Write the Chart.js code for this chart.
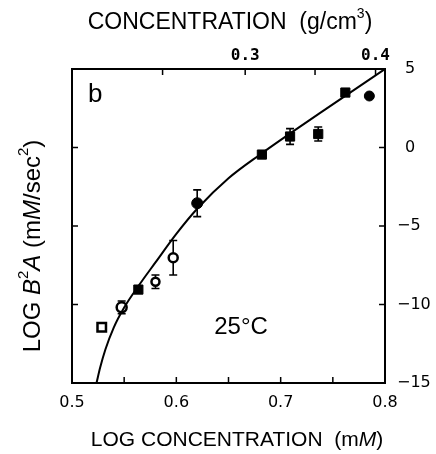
<!DOCTYPE html>
<html><head><meta charset="utf-8">
<script src="https://cdn.jsdelivr.net/npm/chart.js@4"></script>
<style>html,body{margin:0;padding:0;background:#fff}#wrap{width:436px;height:454px}</style>
</head><body><div id="wrap"><canvas id="c" width="436" height="454"></canvas></div>
<script>
// ---- data ----
const curveX = [0.5235, 0.527, 0.532, 0.540, 0.550, 0.5636, 0.580, 0.600, 0.620, 0.650, 0.680, 0.740, 0.800];
const curveY = [-15.0, -14.02, -12.87, -11.47, -10.19, -8.83, -7.32, -5.5, -3.9, -1.96, -0.46, 2.3, 5.0];
const openX = [0.5285, 0.5476, 0.580, 0.597];
const openY = [-11.45, -10.18, -8.55, -7.02];
const openErr = [0, 0.4, 0.43, 1.1];
const filledX = [0.5636, 0.620, 0.682, 0.709, 0.736, 0.762, 0.785];
const filledY = [-9.05, -3.55, -0.45, 0.7, 0.86, 3.5, 3.28];
const filledErr = [0, 0.85, 0, 0.5, 0.45, 0, 0];
const xTickValues = [0.5, 0.55, 0.6, 0.65, 0.7, 0.75, 0.8];
const xTickLabels = ['0.5', '', '0.6', '', '0.7', '', '0.8'];
const yTickValues = [-15, -10, -5, 0, 5];
const yTickLabels = ['\u221215', '\u221210', '\u22125', '\u20020', '\u20025'];
const topTickConc = [0.25, 0.3, 0.35, 0.4];
const topTickLabels = ['', '0.3', '', '0.4'];
const topRefConc = 0.3, topRefLog = 0.666;

const TITLE_FONT = '"Liberation Sans", Arial, sans-serif';
const TICK_FONT = '"DejaVu Sans", sans-serif';

function pts(xs, ys) { return xs.map((x, i) => ({x: x, y: ys[i]})); }

function segFont(s, size) {
  const sz = s.sup ? Math.round(size * 0.62) : size;
  return (s.i ? 'italic ' : '') + sz + 'px ' + TITLE_FONT;
}
function drawRich(ctx, segs, cx, cy, size, rot) {
  ctx.save();
  ctx.translate(cx, cy);
  if (rot) ctx.rotate(rot);
  let w = 0;
  segs.forEach(s => { ctx.font = segFont(s, size); w += ctx.measureText(s.t).width; });
  let x = -w / 2;
  ctx.fillStyle = '#000';
  ctx.textBaseline = 'middle';
  ctx.textAlign = 'left';
  segs.forEach(s => {
    ctx.font = segFont(s, size);
    ctx.fillText(s.t, x, s.sup ? -size * 0.38 : 0);
    x += ctx.measureText(s.t).width;
  });
  ctx.restore();
}

const decor = {
  id: 'decor',
  beforeDatasetsDraw(chart) {
    const ctx = chart.ctx, xs = chart.scales.x, ys = chart.scales.y;
    ctx.save();
    ctx.strokeStyle = '#000';
    ctx.lineWidth = 1.6;
    const bars = (X, Y, E) => X.forEach((x, i) => {
      if (!E[i]) return;
      const px = xs.getPixelForValue(x);
      const y1 = ys.getPixelForValue(Y[i] + E[i]);
      const y2 = ys.getPixelForValue(Y[i] - E[i]);
      ctx.beginPath();
      ctx.moveTo(px, y1); ctx.lineTo(px, y2);
      ctx.moveTo(px - 4, y1); ctx.lineTo(px + 4, y1);
      ctx.moveTo(px - 4, y2); ctx.lineTo(px + 4, y2);
      ctx.stroke();
    });
    bars(openX, openY, openErr);
    bars(filledX, filledY, filledErr);
    ctx.restore();
  },
  afterDraw(chart) {
    const ctx = chart.ctx, a = chart.chartArea;
    ctx.save();
    ctx.strokeStyle = '#000';
    ctx.lineWidth = 1.5;
    const L = 6;
    ctx.beginPath();
    chart.scales.x.ticks.forEach(t => { const p = chart.scales.x.getPixelForValue(t.value); ctx.moveTo(p, a.bottom); ctx.lineTo(p, a.bottom - L); });
    chart.scales.x2.ticks.forEach(t => { const p = chart.scales.x2.getPixelForValue(t.value); ctx.moveTo(p, a.top); ctx.lineTo(p, a.top + L); });
    chart.scales.y.ticks.forEach(t => { const p = chart.scales.y.getPixelForValue(t.value); ctx.moveTo(a.right, p); ctx.lineTo(a.right - L, p); });
    chart.scales.y2.ticks.forEach(t => { const p = chart.scales.y2.getPixelForValue(t.value); ctx.moveTo(a.left, p); ctx.lineTo(a.left + L, p); });
    ctx.stroke();
    ctx.restore();

    drawRich(ctx, [{t: 'CONCENTRATION  (g/cm'}, {t: '3', sup: true}, {t: ')'}], 230, 23, 23, 0);
    drawRich(ctx, [{t: 'LOG CONCENTRATION  (m'}, {t: 'M', i: true}, {t: ')'}], 237, 440, 21, 0);
    drawRich(ctx, [{t: 'LOG '}, {t: 'B', i: true}, {t: '2', sup: true}, {t: 'A', i: true}, {t: ' (m'}, {t: 'M', i: true}, {t: '/sec'}, {t: '2', sup: true}, {t: ')'}], 33, 246, 24, -Math.PI / 2);

    ctx.save();
    ctx.fillStyle = '#000';
    ctx.textBaseline = 'alphabetic';
    ctx.textAlign = 'left';
    ctx.font = '26px ' + TITLE_FONT;
    ctx.fillText('b', 88, 102);
    ctx.textAlign = 'center';
    ctx.textBaseline = 'middle';
    ctx.font = '24px ' + TITLE_FONT;
    ctx.fillText('25\u00B0C', 241, 327);
    ctx.restore();
  }
};

const tickFont = {family: TICK_FONT, size: 16};
const axisCommon = {
  type: 'linear',
  grid: {display: true, drawOnChartArea: false, drawTicks: false},
  border: {display: true, color: '#000', width: 2}
};

new Chart(document.getElementById('c'), {
  type: 'scatter',
  data: {
    datasets: [
      {
        data: pts(curveX, curveY), showLine: true, borderColor: '#000', borderWidth: 2,
        pointRadius: 0, cubicInterpolationMode: 'monotone', fill: false, xAxisID: 'x', yAxisID: 'y'
      },
      {
        data: pts(openX, openY), xAxisID: 'x', yAxisID: 'y',
        pointStyle: ['rect', 'circle', 'circle', 'circle'], pointRadius: [6, 5, 4, 4.5],
        backgroundColor: '#fff', borderColor: '#000', borderWidth: 2.5
      },
      {
        data: pts(filledX, filledY), xAxisID: 'x', yAxisID: 'y',
        pointStyle: ['rect', 'circle', 'rect', 'rect', 'rect', 'rect', 'circle'], pointRadius: [6.5, 5.5, 6.5, 6.5, 6.5, 6.5, 5],
        backgroundColor: '#000', borderColor: '#000', borderWidth: 1
      }
    ]
  },
  options: {
    responsive: false, animation: false, devicePixelRatio: 1,
    layout: {padding: 0},
    plugins: {legend: {display: false}, tooltip: {enabled: false}},
    events: [],
    scales: {
      x: Object.assign({}, axisCommon, {
        position: 'bottom', min: 0.5, max: 0.8,
        afterBuildTicks: s => { s.ticks = xTickValues.map(v => ({value: v})); },
        ticks: {callback: (v, i) => xTickLabels[i], font: tickFont, color: '#000', padding: 10, maxRotation: 0, autoSkip: false},
        afterFit: s => { s.height = 71; }
      }),
      x2: Object.assign({}, axisCommon, {
        position: 'top', min: 0.5, max: 0.8,
        afterBuildTicks: s => { s.ticks = topTickConc.map(c => ({value: topRefLog + Math.log10(c / topRefConc)})); },
        ticks: {callback: (v, i) => topTickLabels[i], font: {family: '"DejaVu Sans Mono", monospace', size: 16, weight: 'bold'}, color: '#000', padding: 4, maxRotation: 0, autoSkip: false},
        afterFit: s => { s.height = 69; }
      }),
      y: Object.assign({}, axisCommon, {
        position: 'right', min: -15, max: 5,
        afterBuildTicks: s => { s.ticks = yTickValues.map(v => ({value: v})); },
        ticks: {callback: (v, i) => yTickLabels[i], font: tickFont, color: '#000', padding: 12, autoSkip: false},
        afterFit: s => { s.width = 51; }
      }),
      y2: Object.assign({}, axisCommon, {
        position: 'left', min: -15, max: 5,
        afterBuildTicks: s => { s.ticks = yTickValues.map(v => ({value: v})); },
        ticks: {callback: () => '', font: tickFont, autoSkip: false},
        afterFit: s => { s.width = 72; }
      })
    }
  },
  plugins: [decor]
});
</script>
</body></html>
